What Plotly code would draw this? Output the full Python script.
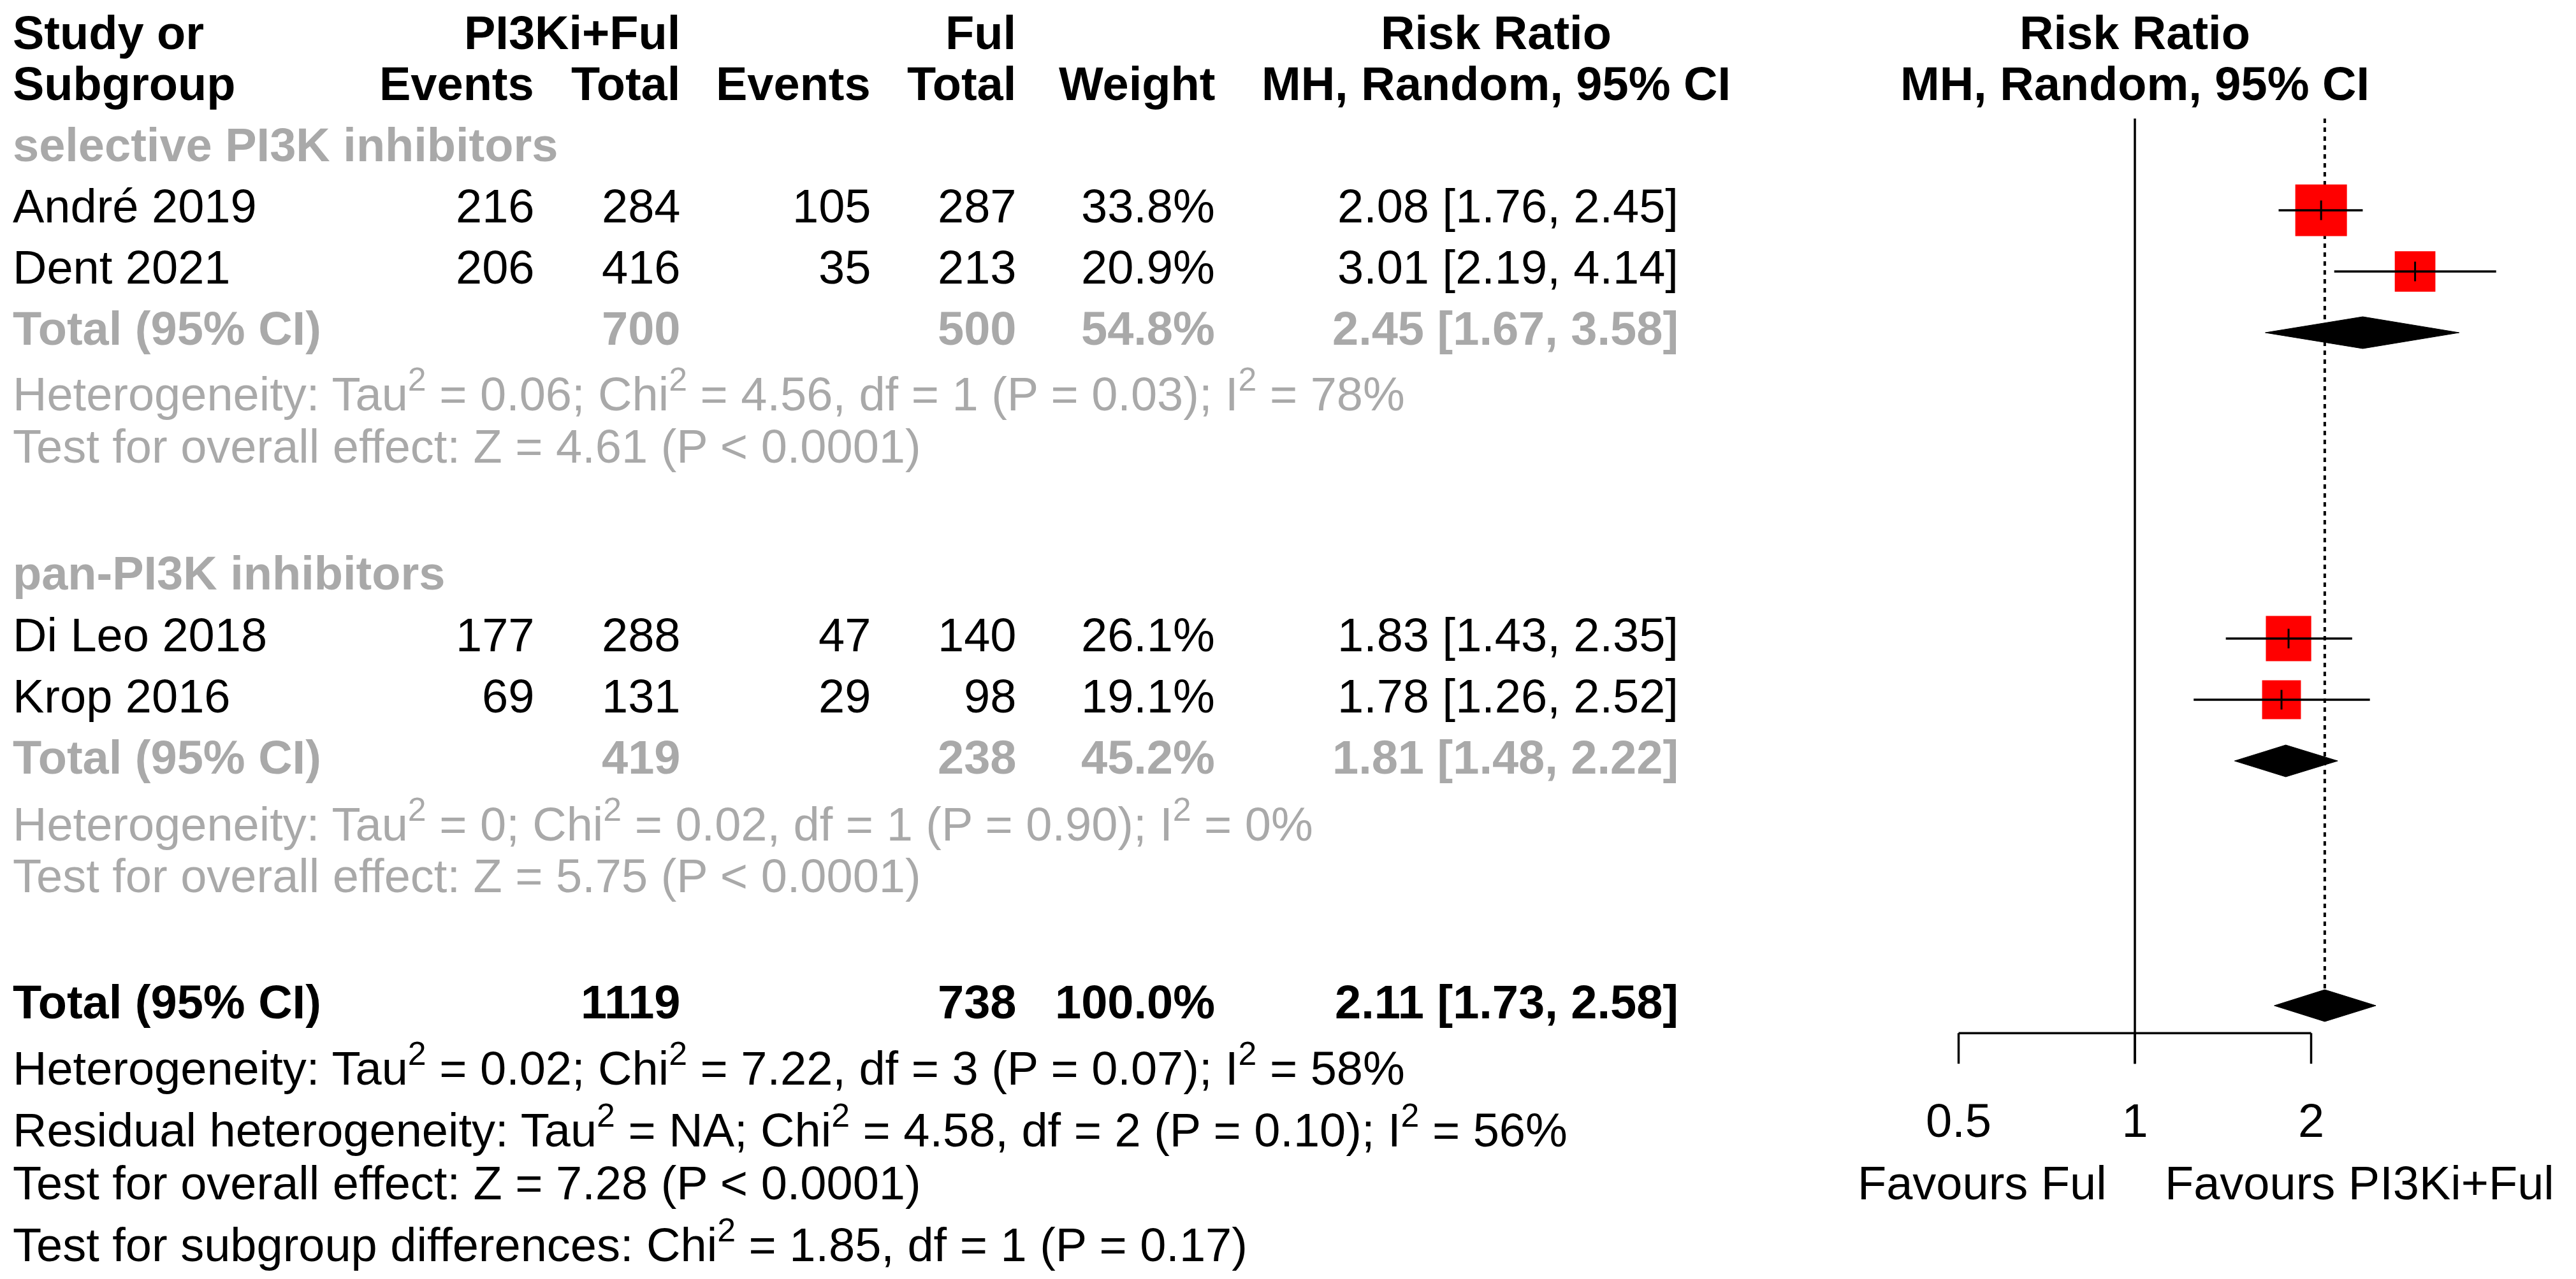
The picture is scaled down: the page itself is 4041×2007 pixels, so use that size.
import plotly.graph_objects as go

# study level data
studies = ["André 2019", "Dent 2021", "Di Leo 2018", "Krop 2016"]
ev_trt = [216, 206, 177, 69]
n_trt = [284, 416, 288, 131]
ev_ctl = [105, 35, 47, 29]
n_ctl = [287, 213, 140, 98]
weights = [33.8, 20.9, 26.1, 19.1]
rr = [2.08, 3.01, 1.83, 1.78]
rr_lo = [1.76, 2.19, 1.43, 1.26]
rr_hi = [2.45, 4.14, 2.35, 2.52]
study_rows = [3, 4, 10, 11]

# subgroups
subgroups = ["selective PI3K inhibitors", "pan-PI3K inhibitors"]
sub_n_trt = [700, 419]
sub_n_ctl = [500, 238]
sub_w = [54.8, 45.2]
sub_rr = [2.45, 1.81]
sub_lo = [1.67, 1.48]
sub_hi = [3.58, 2.22]
sub_het = [
    "Heterogeneity: Tau<sup>2</sup> = 0.06; Chi<sup>2</sup> = 4.56, df = 1 (P = 0.03); I<sup>2</sup> = 78%",
    "Heterogeneity: Tau<sup>2</sup> = 0; Chi<sup>2</sup> = 0.02, df = 1 (P = 0.90); I<sup>2</sup> = 0%",
]
sub_test = [
    "Test for overall effect: Z = 4.61 (P < 0.0001)",
    "Test for overall effect: Z = 5.75 (P < 0.0001)",
]
sub_head_rows = [2, 9]
sub_tot_rows = [5, 12]
sub_het_rows = [6.01, 13.04]
sub_test_rows = [6.92, 13.94]

# overall
tot_n_trt = 1119
tot_n_ctl = 738
tot_rr = 2.11
tot_lo = 1.73
tot_hi = 2.58
tot_row = 16
foot_lines = [
    "Heterogeneity: Tau<sup>2</sup> = 0.02; Chi<sup>2</sup> = 7.22, df = 3 (P = 0.07); I<sup>2</sup> = 58%",
    "Residual heterogeneity: Tau<sup>2</sup> = NA; Chi<sup>2</sup> = 4.58, df = 2 (P = 0.10); I<sup>2</sup> = 56%",
    "Test for overall effect: Z = 7.28 (P < 0.0001)",
    "Test for subgroup differences: Chi<sup>2</sup> = 1.85, df = 1 (P = 0.17)",
]
foot_rows = [17.03, 18.04, 18.96, 19.92]

ticks = [0.5, 1, 2]
tick_labels = ["0.5", "1", "2"]

W, H = 4041, 2007
FONT = "Liberation Sans, Arial, sans-serif"
FS = 74
GREY = "#A9A9A9"
cols = dict(study=10, ev_t=832, n_t=1061, ev_c=1360, n_c=1588, weight=1900, ci=2627, head=2339)

fig = go.Figure()


def txt(x, y, s, color="black", bold=False, anchor="right"):
    if bold:
        s = "<b>" + s + "</b>"
    if y == 0:
        # first header line sits against the top edge
        pos = dict(y=1, yref="paper", yanchor="top", yshift=0)
    else:
        pos = dict(y=y, yref="y", yanchor="middle", yshift=6)
    fig.add_annotation(x=x / W, xref="paper", text=s, showarrow=False, xanchor=anchor,
                       font=dict(family=FONT, size=FS, color=color), **pos)


def ci_txt(e, l, h):
    return "%.2f [%.2f, %.2f]" % (e, l, h)


# header
txt(cols["study"], 0, "Study or", bold=True, anchor="left")
txt(cols["study"], 1, "Subgroup", bold=True, anchor="left")
txt(cols["n_t"], 0, "PI3Ki+Ful", bold=True)
txt(cols["ev_t"], 1, "Events", bold=True)
txt(cols["n_t"], 1, "Total", bold=True)
txt(cols["n_c"], 0, "Ful", bold=True)
txt(cols["ev_c"], 1, "Events", bold=True)
txt(cols["n_c"], 1, "Total", bold=True)
txt(cols["weight"], 1, "Weight", bold=True)
txt(cols["head"], 0, "Risk Ratio", bold=True, anchor="center")
txt(cols["head"], 1, "MH, Random, 95% CI", bold=True, anchor="center")

# study rows
for i, s in enumerate(studies):
    r = study_rows[i]
    txt(cols["study"], r, s, anchor="left")
    txt(cols["ev_t"], r, str(ev_trt[i]))
    txt(cols["n_t"], r, str(n_trt[i]))
    txt(cols["ev_c"], r, str(ev_ctl[i]))
    txt(cols["n_c"], r, str(n_ctl[i]))
    txt(cols["weight"], r, "%.1f%%" % weights[i])
    txt(cols["ci"], r, ci_txt(rr[i], rr_lo[i], rr_hi[i]))

# subgroup rows
for j, g in enumerate(subgroups):
    txt(cols["study"], sub_head_rows[j], g, color=GREY, bold=True, anchor="left")
    r = sub_tot_rows[j]
    txt(cols["study"], r, "Total (95% CI)", color=GREY, bold=True, anchor="left")
    txt(cols["n_t"], r, str(sub_n_trt[j]), color=GREY, bold=True)
    txt(cols["n_c"], r, str(sub_n_ctl[j]), color=GREY, bold=True)
    txt(cols["weight"], r, "%.1f%%" % sub_w[j], color=GREY, bold=True)
    txt(cols["ci"], r, ci_txt(sub_rr[j], sub_lo[j], sub_hi[j]), color=GREY, bold=True)
    txt(cols["study"], sub_het_rows[j], sub_het[j], color=GREY, anchor="left")
    txt(cols["study"], sub_test_rows[j], sub_test[j], color=GREY, anchor="left")

# overall
txt(cols["study"], tot_row, "Total (95% CI)", bold=True, anchor="left")
txt(cols["n_t"], tot_row, str(tot_n_trt), bold=True)
txt(cols["n_c"], tot_row, str(tot_n_ctl), bold=True)
txt(cols["weight"], tot_row, "100.0%", bold=True)
txt(cols["ci"], tot_row, ci_txt(tot_rr, tot_lo, tot_hi), bold=True)
for line, r in zip(foot_lines, foot_rows):
    txt(cols["study"], r, line, anchor="left")

# forest plot part
LW = 3.5
axis_row = 16.45
tick_end = 16.95
top_row = 1.5
dh = 0.26

# reference line at 1 and dotted line at the pooled estimate
fig.add_trace(go.Scatter(x=[1, 1], y=[top_row, tick_end], mode="lines",
                         line=dict(color="black", width=LW)))
fig.add_trace(go.Scatter(x=[tot_rr, tot_rr], y=[top_row, tot_row - dh], mode="lines",
                         line=dict(color="black", width=4, dash="7px,7px")))

# squares sized by weight
sizes = [81 * (w / weights[0]) ** 0.5 for w in weights]
fig.add_trace(go.Scatter(x=rr, y=study_rows, mode="markers",
                         marker=dict(symbol="square", size=sizes, color="#FF0000",
                                     opacity=1, line=dict(width=0))))

# CI lines
cx, cy = [], []
for i in range(len(studies)):
    cx += [rr_lo[i], rr_hi[i], None]
    cy += [study_rows[i], study_rows[i], None]
fig.add_trace(go.Scatter(x=cx, y=cy, mode="lines", line=dict(color="black", width=3.5)))
fig.add_trace(go.Scatter(x=rr, y=study_rows, mode="markers",
                         marker=dict(symbol="line-ns", size=22,
                                     line=dict(color="black", width=3))))

# diamonds
for e, l, h, r in list(zip(sub_rr, sub_lo, sub_hi, sub_tot_rows)) + [(tot_rr, tot_lo, tot_hi, tot_row)]:
    fig.add_trace(go.Scatter(x=[l, e, h, e, l], y=[r, r - dh, r, r + dh, r], mode="lines",
                             fill="toself", fillcolor="black",
                             line=dict(color="black", width=1)))

# x axis drawn by hand
fig.add_trace(go.Scatter(x=[ticks[0], ticks[-1]], y=[axis_row, axis_row], mode="lines",
                         line=dict(color="black", width=LW)))
ax, ay = [], []
for t in ticks:
    ax += [t, t, None]
    ay += [axis_row, tick_end, None]
fig.add_trace(go.Scatter(x=ax, y=ay, mode="lines", line=dict(color="black", width=LW)))
fig.add_trace(go.Scatter(x=ticks, y=[17.95] * len(ticks), mode="text", text=tick_labels,
                         textposition="middle center",
                         textfont=dict(family=FONT, size=FS, color="black")))

fig.add_annotation(x=0, y=1, xref="x", yref="paper", text="<b>Risk Ratio</b>", showarrow=False,
                   xanchor="center", yanchor="top",
                   font=dict(family=FONT, size=FS, color="black"))
fig.add_annotation(x=0, y=1, xref="x", yref="y", text="<b>MH, Random, 95% CI</b>", showarrow=False,
                   xanchor="center", yanchor="middle", yshift=6,
                   font=dict(family=FONT, size=FS, color="black"))
fig.add_annotation(x=0, y=18.9, xref="x", yref="y", text="Favours Ful", showarrow=False,
                   xanchor="right", xshift=-42, yanchor="middle",
                   font=dict(family=FONT, size=FS, color="black"))
fig.add_annotation(x=0, y=18.9, xref="x", yref="y", text="Favours PI3Ki+Ful", showarrow=False,
                   xanchor="left", xshift=45, yanchor="middle",
                   font=dict(family=FONT, size=FS, color="black"))

fig.update_layout(
    width=W, height=H,
    margin=dict(l=0, r=0, t=0, b=0),
    plot_bgcolor="white", paper_bgcolor="white",
    showlegend=False,
    xaxis=dict(type="log", range=[-0.37126, 0.76210], domain=[3000 / W, 1], visible=False),
    yaxis=dict(range=[20.552, -0.354], domain=[0, 1], visible=False),
)

fig.write_html("out.html")
